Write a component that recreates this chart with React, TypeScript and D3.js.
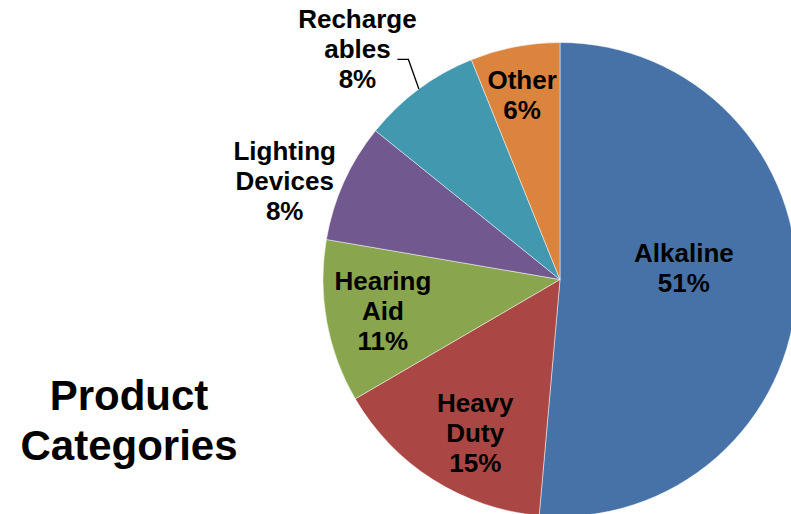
import type { FC } from "react";
import { useEffect, useRef } from "react";
import * as d3 from "d3";

// Slices, clockwise from 12 o'clock
const categories = ["Alkaline", "Heavy Duty", "Hearing Aid", "Lighting Devices", "Rechargeables", "Other"];
const labelLines = [["Alkaline"], ["Heavy", "Duty"], ["Hearing", "Aid"], ["Lighting", "Devices"], ["Recharge", "ables"], ["Other"]];
const shares = [51.4, 15.2, 11.1, 8.1, 8.1, 6.1];
const colors = ["#4672A8", "#AA4643", "#89A54E", "#71588F", "#4198AF", "#DB843D"];
const titleLines = ["Product", "Categories"];

// label placement: radius along slice middle + small nudge
const labelLayout = [
  { r: 124, dx: 0, dy: -17 },
  { r: 175, dx: 9, dy: 5 },
  { r: 180, dx: 0, dy: -1.5 },
  { r: 290, dx: -11, dy: 20 },
  { r: 305, dx: -21, dy: 14 },
  { r: 186, dx: -2.5, dy: -2 },
];

const App: FC = () => {
  const ref = useRef<SVGSVGElement | null>(null);

  useEffect(() => {
    if (!ref.current) return;
    const svg = d3.select(ref.current);
    svg.selectAll("*").remove();

    const width = 791;
    const height = 514;
    const cx = 560;
    const cy = 279.5;
    const radius = 237;
    const font = "'Liberation Sans', Arial, sans-serif";
    const lineH = 30;

    svg.attr("width", width).attr("height", height);

    const data = categories.map((c, i) => ({ name: c, value: shares[i], i }));
    const pie = d3
      .pie<{ name: string; value: number; i: number }>()
      .value((d) => d.value)
      .sort(null);
    const arcs = pie(data);

    const arc = d3.arc<d3.PieArcDatum<any>>().innerRadius(0).outerRadius(radius);

    const g = svg.append("g").attr("transform", `translate(${cx},${cy})`);

    g.selectAll("path")
      .data(arcs)
      .join("path")
      .attr("d", arc as any)
      .attr("fill", (d) => colors[d.data.i])
      .attr("stroke", "#ffffff")
      .attr("stroke-opacity", 0.6)
      .attr("stroke-width", 0.8);

    // labels
    arcs.forEach((a) => {
      const i = a.data.i;
      const lay = labelLayout[i];
      const la = d3.arc<any>().innerRadius(lay.r).outerRadius(lay.r);
      const [px, py] = la.centroid(a);
      const x = px + lay.dx;
      const y = py + lay.dy;
      const lines = [...labelLines[i], `${Math.round(a.data.value)}%`];
      const n = lines.length;
      const t = g
        .append("text")
        .attr("text-anchor", "middle")
        .attr("font-family", font)
        .attr("font-weight", "bold")
        .attr("font-size", 26)
        .attr("fill", "#000");
      lines.forEach((ln, k) => {
        t.append("tspan")
          .attr("x", x)
          .attr("y", y + (k - (n - 1) / 2) * lineH + 9.5)
          .text(ln);
      });

      // leader line for the Rechargeables label
      if (categories[i] === "Rechargeables") {
        const edge = d3.arc<any>().innerRadius(radius).outerRadius(radius).centroid(a);
        const yLine = y + 11;
        const xStart = x + 40;
        const xBend = x + 51;
        g.append("path")
          .attr("d", `M${xStart},${yLine}L${xBend},${yLine}L${edge[0]},${edge[1]}`)
          .attr("fill", "none")
          .attr("stroke", "#000")
          .attr("stroke-width", 1.3);
      }
    });

    // title
    const title = svg
      .append("text")
      .attr("text-anchor", "middle")
      .attr("font-family", font)
      .attr("font-weight", "bold")
      .attr("font-size", 42)
      .attr("fill", "#000");
    titleLines.forEach((ln, k) => {
      title.append("tspan").attr("x", 129).attr("y", 410 + k * 50).text(ln);
    });
  }, []);

  return (
    <svg
      ref={ref}
      style={{ position: "absolute", left: 0, top: 0, display: "block", background: "#fff" }}
    ></svg>
  );
};

export default App;
